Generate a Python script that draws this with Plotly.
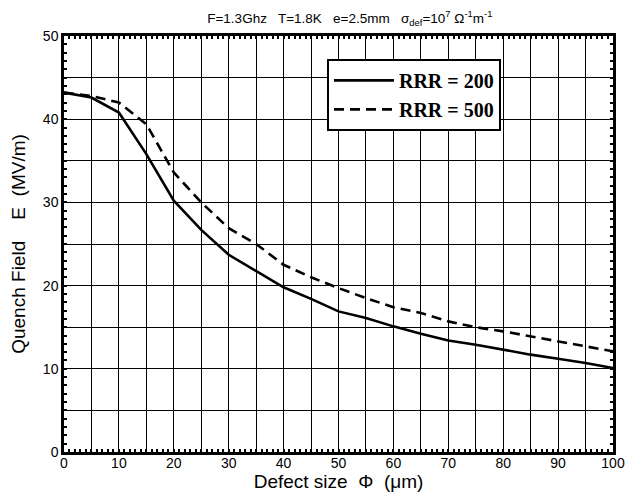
import plotly.graph_objects as go

defect_size = [0, 5, 10, 15, 20, 25, 30, 35, 40, 45, 50, 55, 60, 65, 70, 75, 80, 85, 90, 95, 100]
rrr200 = [43.2, 42.6, 40.8, 35.8, 30.2, 26.7, 23.7, 21.8, 19.8, 18.4, 16.9, 16.1, 15.1, 14.2, 13.4, 12.9, 12.3, 11.7, 11.2, 10.7, 10.1]
rrr500 = [43.2, 42.8, 42.0, 39.4, 33.6, 30.0, 26.9, 25.0, 22.5, 21.0, 19.7, 18.5, 17.4, 16.7, 15.7, 15.0, 14.5, 13.9, 13.3, 12.7, 12.1]

x_tick_vals = list(range(0, 101, 10))
y_tick_vals = list(range(0, 51, 10))

sans = "Liberation Sans, Arial, sans-serif"

fig = go.Figure()
fig.add_trace(go.Scatter(x=defect_size, y=rrr200, mode="lines", name="RRR = 200",
                         line=dict(color="black", width=2.6)))
fig.add_trace(go.Scatter(x=defect_size, y=rrr500, mode="lines", name="RRR = 500",
                         line=dict(color="black", width=2.6, dash="10px,6px")))
fig.add_trace(go.Scatter(x=[0, 100], y=[0, 50], xaxis="x2", yaxis="y2", mode="none",
                         showlegend=False, hoverinfo="skip"))
fig.add_trace(go.Scatter(x=[0, 100], y=[0, 50], xaxis="x3", yaxis="y3", mode="none",
                         showlegend=False, hoverinfo="skip"))

axis_font = dict(family=sans, size=14, color="black")
minor_tick_axis = dict(dtick=1, ticks="inside", ticklen=3, tickcolor="black", tickwidth=1.5,
                       showticklabels=False, showgrid=False, zeroline=False, automargin=False)

fig.update_layout(
    width=639, height=495,
    margin=dict(l=56, r=34, t=28, b=51),
    paper_bgcolor="white", plot_bgcolor="white",
    title=dict(text="F=1.3Ghz   T=1.8K   e=2.5mm   σ<sub>def</sub>=10<sup>7</sup> Ω<sup>-1</sup>m<sup>-1</sup>",
               x=0.535, xanchor="center", y=0.979, yanchor="middle", automargin=False,
               font=dict(family=sans, size=13.5, color="black")),
    xaxis=dict(range=[0, 100], tickvals=x_tick_vals, showgrid=True, gridcolor="black", gridwidth=1.3,
               minor=dict(dtick=5, showgrid=True, gridcolor="black", gridwidth=1.3),
               showline=True, linecolor="black", linewidth=2.5, mirror=True,
               ticks="", tickfont=axis_font, zeroline=False, automargin=False,
               ticklabelstandoff=-4,
               title=dict(text="Defect size  Φ  (μm)", standoff=0,
                          font=dict(family=sans, size=19, color="black"))),
    yaxis=dict(range=[0, 50], tickvals=y_tick_vals, showgrid=True, gridcolor="black", gridwidth=1.3,
               minor=dict(dtick=5, showgrid=True, gridcolor="black", gridwidth=1.3),
               showline=True, linecolor="black", linewidth=2.5, mirror=True,
               ticks="", tickfont=axis_font, zeroline=False, automargin=False,
               title=dict(text="Quench Field    E  (MV/m)", standoff=13,
                          font=dict(family=sans, size=19, color="black"))),
    xaxis2=dict(range=[0, 100], overlaying="x", side="top", **minor_tick_axis),
    yaxis2=dict(range=[0, 50], overlaying="y", side="right", **minor_tick_axis),
    xaxis3=dict(range=[0, 100], overlaying="x", side="bottom", **minor_tick_axis),
    yaxis3=dict(range=[0, 50], overlaying="y", side="left", **minor_tick_axis),
    legend=dict(x=0.479, y=0.945, xanchor="left", yanchor="top",
                bgcolor="white", bordercolor="black", borderwidth=2,
                font=dict(family="Liberation Serif, Times New Roman, serif", size=20,
                          color="black", weight="bold"),
                tracegroupgap=0, itemwidth=60),
    showlegend=True,
)

fig.write_html("out.html")
